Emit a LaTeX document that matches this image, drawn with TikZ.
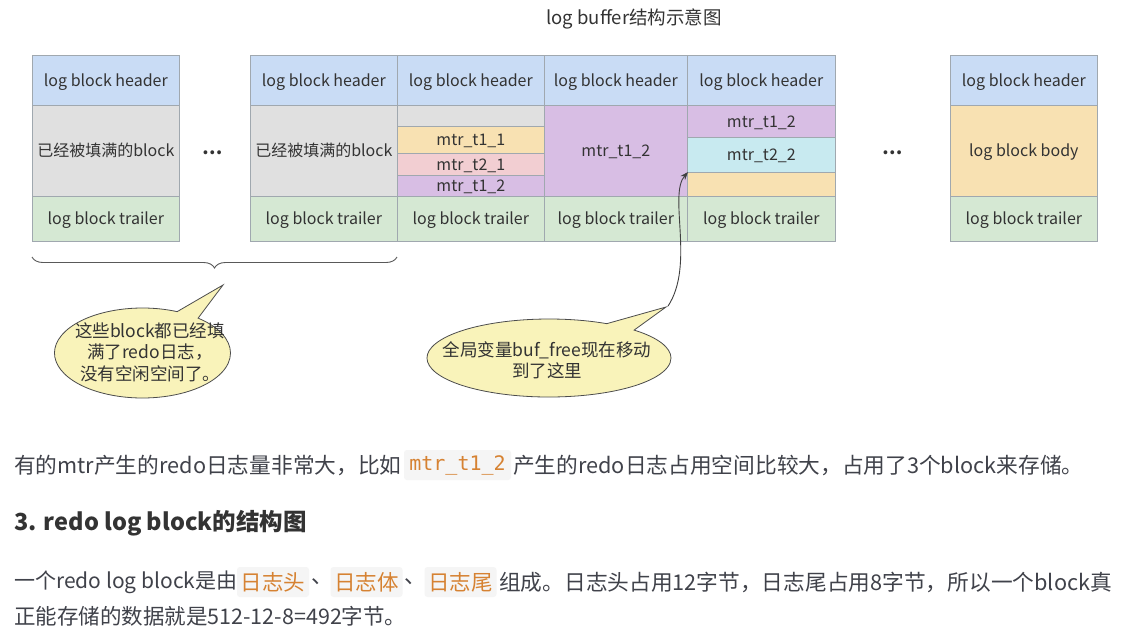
\documentclass[tikz,border=0pt]{standalone}
\usepackage{fontspec}
\setmainfont{Noto Sans CJK SC}
\newfontfamily\codefont{DejaVu Sans Mono}
\usetikzlibrary{arrows.meta,shapes.callouts,decorations.pathreplacing,calc}
\definecolor{hdr}{RGB}{201,220,245}
\definecolor{gry}{RGB}{224,224,224}
\definecolor{grn}{RGB}{213,232,211}
\definecolor{org}{RGB}{248,225,178}
\definecolor{pnk}{RGB}{242,206,210}
\definecolor{pur}{RGB}{216,190,228}
\definecolor{cyn}{RGB}{200,234,240}
\definecolor{bordc}{RGB}{160,168,175}
\definecolor{yel}{RGB}{249,243,186}
\definecolor{txt}{RGB}{51,51,51}
\definecolor{body}{RGB}{64,66,74}
\definecolor{codeor}{RGB}{214,130,50}
\definecolor{codebg}{RGB}{245,245,245}
\begin{document}
\begin{tikzpicture}[x=1pt,y=-1pt,
  cell/.style={draw=bordc, line width=0.7pt, inner sep=0pt, anchor=north west, text=txt,
    text height=14pt, text depth=2.5pt, font=\fontsize{16}{19}\selectfont},
  bubble/.style={ellipse callout, draw=black!70, line width=0.8pt, fill=yel, inner sep=0pt,
    callout pointer arc=16},
  btext/.style={align=center, text=txt, font=\fontsize{17.5}{21.5}\selectfont, inner sep=0pt},
  para/.style={anchor=west, inner sep=0pt, text=body, font=\fontsize{21.7}{26}\selectfont},
  codebox/.style={fill=codebg, rounded corners=3pt, inner sep=0pt, text=codeor},
  dotsty/.style={text=txt, font=\bfseries\fontsize{18}{20}\selectfont},
  arr/.style={draw=black!75, line width=0.9pt, -{Stealth[length=8pt,width=6pt]}}
]
\useasboundingbox[fill=white] (0,0) rectangle (1131,641);

\node[text=txt, font=\fontsize{18.5}{22}\selectfont] (title) at (634,19) {log buffer结构示意图};

% block 1
\node[cell,fill=hdr,minimum width=147pt,minimum height=50pt] (b1h) at (32,55) {log block header};
\node[cell,fill=gry,minimum width=147pt,minimum height=91pt] (b1b) at (32,105) {已经被填满的block};
\node[cell,fill=grn,minimum width=147pt,minimum height=45pt] (b1t) at (32,196) {log block trailer};

\node[dotsty] (dots1) at (213,153) {…};

% block 2
\node[cell,fill=hdr,minimum width=147pt,minimum height=50pt] (b2h) at (250,55) {log block header};
\node[cell,fill=gry,minimum width=147pt,minimum height=91pt] (b2b) at (250,105) {已经被填满的block};
\node[cell,fill=grn,minimum width=147pt,minimum height=45pt] (b2t) at (250,196) {log block trailer};

% block 3
\node[cell,fill=hdr,minimum width=147pt,minimum height=50pt] (b3h) at (397,55) {log block header};
\node[cell,fill=gry,minimum width=147pt,minimum height=21pt] (b3a) at (397,105) {};
\node[cell,fill=org,minimum width=147pt,minimum height=27pt] (b3b) at (397,126) {mtr\_t1\_1};
\node[cell,fill=pnk,minimum width=147pt,minimum height=22pt] (b3c) at (397,153) {mtr\_t2\_1};
\node[cell,fill=pur,minimum width=147pt,minimum height=21pt] (b3d) at (397,175) {mtr\_t1\_2};
\node[cell,fill=grn,minimum width=147pt,minimum height=45pt] (b3t) at (397,196) {log block trailer};

% block 4
\node[cell,fill=hdr,minimum width=143pt,minimum height=50pt] (b4h) at (544,55) {log block header};
\node[cell,fill=pur,minimum width=143pt,minimum height=91pt] (b4b) at (544,105) {mtr\_t1\_2};
\node[cell,fill=grn,minimum width=143pt,minimum height=45pt] (b4t) at (544,196) {log block trailer};

% block 5
\node[cell,fill=hdr,minimum width=148pt,minimum height=50pt] (b5h) at (687,55) {log block header};
\node[cell,fill=pur,minimum width=148pt,minimum height=32pt] (b5a) at (687,105) {mtr\_t1\_2};
\node[cell,fill=cyn,minimum width=148pt,minimum height=35pt] (b5b) at (687,137) {mtr\_t2\_2};
\node[cell,fill=org,minimum width=148pt,minimum height=24pt] (b5c) at (687,172) {};
\node[cell,fill=grn,minimum width=148pt,minimum height=45pt] (b5t) at (687,196) {log block trailer};

\node[dotsty] (dots2) at (893,153) {…};

% block 6
\node[cell,fill=hdr,minimum width=147pt,minimum height=50pt] (b6h) at (950,55) {log block header};
\node[cell,fill=org,minimum width=147pt,minimum height=91pt] (b6b) at (950,105) {log block body};
\node[cell,fill=grn,minimum width=147pt,minimum height=45pt] (b6t) at (950,196) {log block trailer};

% brace
\coordinate (brL) at (32,257);
\coordinate (brR) at (397,257);
\draw[draw=black!65, line width=0.9pt, decorate, decoration={brace, mirror, amplitude=11pt}] (brL) -- (brR);

% callout 1
\node[bubble, minimum width=176pt, minimum height=90pt, callout absolute pointer={(223,285)}] (c1) at (142.5,353) {};
\node[btext] (c1t) at (150,352) {这些block都已经填\\满了redo日志，\\没有空闲空间了。};

% callout 2
\node[bubble, minimum width=244pt, minimum height=78pt, callout absolute pointer={(666,307)}] (c2) at (549,358) {};
\node[btext] (c2t) at (547,360) {全局变量buf\_free现在移动\\到了这里};

% arrow
\coordinate (bf) at (688,172);
\draw[arr] (c2.pointer) .. controls (695,265) and (668,195) .. (bf);

% paragraph text
\node[para] (p1a) at (14,465) {有的mtr产生的redo日志量非常大，比如};
\node[codebox, minimum width=107pt, minimum height=30pt, font=\codefont\fontsize{20}{22}\selectfont] (p1c) at (457.5,465) {mtr\_t1\_2};
\node[para] (p1b) at (513,465) {产生的redo日志占用空间比较大，占用了3个block来存储。};

\node[anchor=west, inner sep=0pt, text=txt, font=\bfseries\fontsize{23.5}{28}\selectfont] (h3) at (14,523) {3. redo log block的结构图};

\node[para, font=\fontsize{21}{26}\selectfont] (p3a) at (14,582) {一个redo log block是由};
\node[codebox, minimum width=72pt, minimum height=30pt, font=\fontsize{21.5}{26}\selectfont] (k1) at (273,582) {日志头};
\node[para] (s1) at (311,582) {、};
\node[codebox, minimum width=72pt, minimum height=30pt, font=\fontsize{21.5}{26}\selectfont] (k2) at (366.5,582) {日志体};
\node[para] (s2) at (404,582) {、};
\node[codebox, minimum width=72pt, minimum height=30pt, font=\fontsize{21.5}{26}\selectfont] (k3) at (460.5,582) {日志尾};
\node[para] (p3b) at (499,582) {组成。日志头占用12字节，日志尾占用8字节，所以一个block真};
\node[para, font=\fontsize{21.5}{26}\selectfont] (p4) at (14,616) {正能存储的数据就是512-12-8=492字节。};
\end{tikzpicture}
\end{document}
